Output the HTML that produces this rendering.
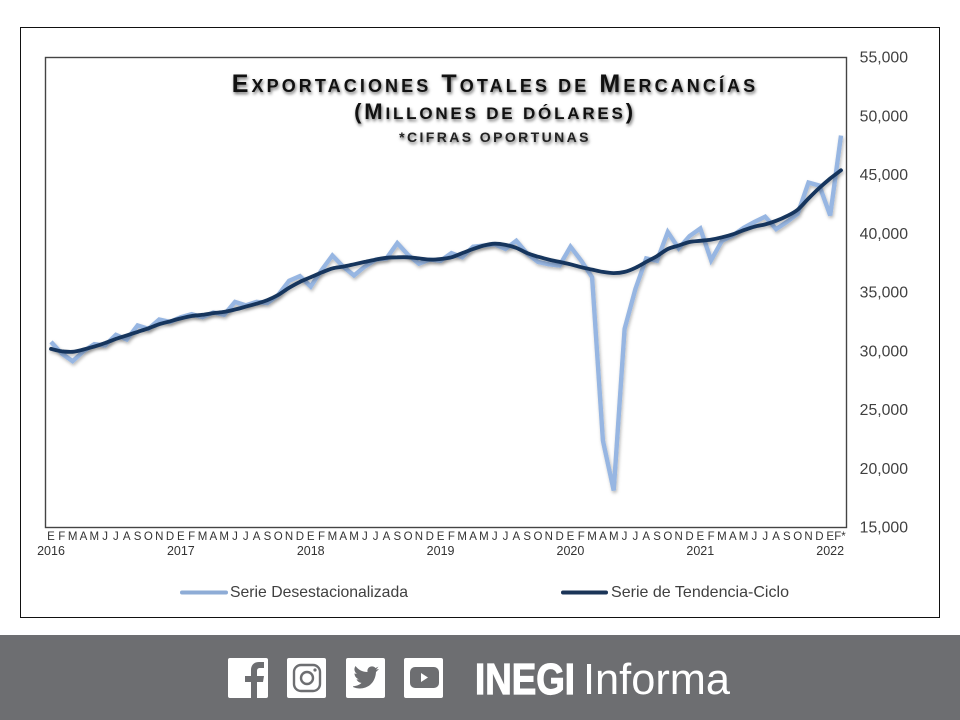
<!DOCTYPE html>
<html lang="es">
<head>
<meta charset="utf-8">
<title>Exportaciones Totales de Mercancías</title>
<style>
html,body{margin:0;padding:0;background:#fff;}
#page{position:relative;width:960px;height:720px;overflow:hidden;background:#fff;font-family:"Liberation Sans",sans-serif;}
#chart{position:absolute;left:0;top:0;}
.ttl{position:absolute;left:45px;width:900px;text-align:center;font-weight:bold;color:#111;white-space:nowrap;text-shadow:1px 2px 3px rgba(0,0,0,.6);}
#t1{top:70px;font-size:25px;line-height:28px;letter-spacing:3.1px;left:45px;}
#t1 span{font-size:18px;}
#t2{top:99px;font-size:22px;line-height:26px;letter-spacing:2.8px;}
#t2 span{font-size:17px;}
#t3{top:128px;font-size:14px;line-height:18px;letter-spacing:2.4px;font-weight:bold;color:#222;}
#footer{position:absolute;left:0;top:635px;width:960px;height:85px;background:#6d6e71;}
</style>
</head>
<body>
<div id="page">
<svg id="chart" width="960" height="635" viewBox="0 0 960 635">
  <defs>
    <filter id="soft" x="-5%" y="-5%" width="110%" height="115%">
      <feDropShadow dx="1" dy="2" stdDeviation="1.6" flood-color="#000" flood-opacity="0.28"/>
    </filter>
  </defs>
  <rect x="20.5" y="27.5" width="919" height="590" fill="#fff" stroke="#111" stroke-width="1"/>
  <rect x="45.5" y="57.5" width="801" height="470" fill="#fff" stroke="#444" stroke-width="1.4"/>
  <g id="yTicks"></g>
  <g id="xTicks"></g>
  <g id="series"></g>
  <g>
    <line x1="182" y1="592.5" x2="226" y2="592.5" stroke="#8eacd6" stroke-width="4" stroke-linecap="round"/>
    <text x="230" y="597" font-size="15.8" fill="#404040" textLength="178" lengthAdjust="spacingAndGlyphs">Serie Desestacionalizada</text>
    <line x1="563" y1="592.5" x2="606" y2="592.5" stroke="#1b3558" stroke-width="4" stroke-linecap="round"/>
    <text x="611" y="597" font-size="15.8" fill="#404040" textLength="178" lengthAdjust="spacingAndGlyphs">Serie de Tendencia-Ciclo</text>
  </g>
</svg>
<div id="t1" class="ttl">E<span>XPORTACIONES</span> T<span>OTALES DE</span> M<span>ERCANCÍAS</span></div>
<div id="t2" class="ttl">(M<span>ILLONES DE DÓLARES</span>)</div>
<div id="t3" class="ttl">*CIFRAS OPORTUNAS</div>
<div id="footer">
<svg width="960" height="85" viewBox="0 635 960 85">
  <g>
    <rect x="228" y="658" width="40" height="40" rx="2" fill="#fff"/>
    <path d="M251 698V682h-6v-6h6v-6c0-5 3-8 8-8h5v6h-4c-2 0-3 1-3 3v5h7l-1 6h-6v16z" fill="#6d6e71"/>
  </g>
  <g>
    <rect x="287" y="658" width="39" height="40" rx="2" fill="#fff"/>
    <rect x="294" y="665" width="26" height="26" rx="7" fill="none" stroke="#6d6e71" stroke-width="2.4"/>
    <circle cx="307" cy="678" r="6" fill="none" stroke="#6d6e71" stroke-width="2.4"/>
    <circle cx="315" cy="670" r="1.6" fill="#6d6e71"/>
  </g>
  <g>
    <rect x="346" y="658" width="39" height="40" rx="2" fill="#fff"/>
    <path d="M353 687c9 4 22 0 23-15l3-3-3 .6 2.500-3-3 1.400c-3-3.500-9-1-8 4-5 0-9-2-12-6-2 3-1 6 1.500 8l-2.500-.6c0 3 2 5 4.500 6h-2.500c1 2 3 3.500 5 3.500-2 2-5 3-8.500 3.500z" fill="#6d6e71"/>
  </g>
  <g>
    <rect x="404" y="658" width="39" height="40" rx="2" fill="#fff"/>
    <rect x="410" y="667" width="29" height="21" rx="5" fill="#6d6e71"/>
    <path d="M421 673v9l7-4.500z" fill="#fff"/>
  </g>
  <text x="475" y="694" font-size="44" font-weight="bold" fill="#fff" stroke="#fff" stroke-width="1.2" textLength="100" lengthAdjust="spacingAndGlyphs">INEGI</text>
  <text x="583" y="694" font-size="44" fill="#fff" textLength="147" lengthAdjust="spacingAndGlyphs">Informa</text>
</svg>
</div>
</div>
<script>
const monthLabels = ["E","F","M","A","M","J","J","A","S","O","N","D","E","F","M","A","M","J","J","A","S","O","N","D","E","F","M","A","M","J","J","A","S","O","N","D","E","F","M","A","M","J","J","A","S","O","N","D","E","F","M","A","M","J","J","A","S","O","N","D","E","F","M","A","M","J","J","A","S","O","N","D","E","F*"];
const yearLabels = ["2016","2017","2018","2019","2020","2021","2022"];
const yTickValues = [15000,20000,25000,30000,35000,40000,45000,50000,55000];
const desestacionalizada = [
  30800,29800,29150,30000,30600,30500,31400,31000,32200,31900,32700,32500,
  32900,33150,32900,33300,33100,34200,33900,34200,34100,34800,36000,36400,
  35500,36900,38150,37200,36450,37200,37800,37900,39200,38200,37450,37800,
  37700,38350,38000,38900,39000,39100,38700,39400,38300,37600,37400,37300,
  38900,37700,36300,22400,18150,31900,35300,37900,37700,40150,38750,39800,
  40450,37750,39400,39850,40500,41000,41450,40400,41000,41700,44350,44100,
  41550,48350
];
const tendenciaCiclo = [
  30200,30000,29950,30150,30400,30700,31050,31350,31650,31950,32300,32550,
  32800,33000,33100,33250,33350,33550,33800,34050,34350,34800,35400,35900,
  36300,36700,37050,37200,37400,37600,37800,37950,38000,38000,37900,37800,
  37850,38000,38350,38700,39000,39150,39050,38800,38350,38050,37800,37600,
  37400,37150,36950,36750,36650,36750,37100,37600,38100,38700,39000,39300,
  39400,39500,39700,39950,40300,40600,40800,41100,41500,42050,43000,43900,
  44700,45400
];

const NS = 'http://www.w3.org/2000/svg';
function xScale(i){ return 51 + i * (841 - 51) / (monthLabels.length - 1); }
function yScale(v){ return 527.5 - (v - 15000) * (470 / 40000); }
function make(tag, attrs, text){
  const el = document.createElementNS(NS, tag);
  for (const k in attrs) el.setAttribute(k, attrs[k]);
  if (text !== undefined) el.textContent = text;
  return el;
}
const yG = document.getElementById('yTicks');
yTickValues.forEach(function(v){
  const t = make('text', {x: 908, y: yScale(v) + 5, 'text-anchor': 'end', 'font-size': 15.8, fill: '#404040'}, v.toLocaleString('en-US'));
  
  
  yG.appendChild(t);
});
const xG = document.getElementById('xTicks');
monthLabels.forEach(function(m, i){
  const t = make('text', {x: xScale(i) + (i === monthLabels.length - 1 ? -1 : 0), y: 540, 'text-anchor': 'middle', 'font-size': 11.5, fill: '#333'}, m);
  
  
  xG.appendChild(t);
});
yearLabels.forEach(function(y, i){
  const t = make('text', {x: xScale(i * 12), y: 555, 'text-anchor': 'middle', 'font-size': 12.5, fill: '#333'}, y);
  
  
  xG.appendChild(t);
});
function straightPath(vals){
  return vals.map(function(v, i){ return (i ? 'L' : 'M') + xScale(i).toFixed(1) + ' ' + yScale(v).toFixed(1); }).join('');
}
function smoothPath(vals){
  const p = vals.map(function(v, i){ return [xScale(i), yScale(v)]; });
  let d = 'M' + p[0][0].toFixed(1) + ' ' + p[0][1].toFixed(1);
  for (let i = 0; i < p.length - 1; i++){
    const a = p[Math.max(i - 1, 0)], b = p[i], c = p[i + 1], e = p[Math.min(i + 2, p.length - 1)];
    d += 'C' + (b[0] + (c[0] - a[0]) / 6).toFixed(1) + ' ' + (b[1] + (c[1] - a[1]) / 6).toFixed(1) + ' ' +
         (c[0] - (e[0] - b[0]) / 6).toFixed(1) + ' ' + (c[1] - (e[1] - b[1]) / 6).toFixed(1) + ' ' +
         c[0].toFixed(1) + ' ' + c[1].toFixed(1);
  }
  return d;
}
const sG = document.getElementById('series');
const lineA = make('path', {d: straightPath(desestacionalizada), fill: 'none', stroke: '#97b6e2', 'stroke-width': 4.4, 'stroke-linejoin': 'miter', filter: 'url(#soft)'});


sG.appendChild(lineA);
const lineB = make('path', {d: smoothPath(tendenciaCiclo), fill: 'none', stroke: '#17365d', 'stroke-width': 3.8, 'stroke-linecap': 'round', filter: 'url(#soft)'});


sG.appendChild(lineB);
</script>
</body>
</html>
